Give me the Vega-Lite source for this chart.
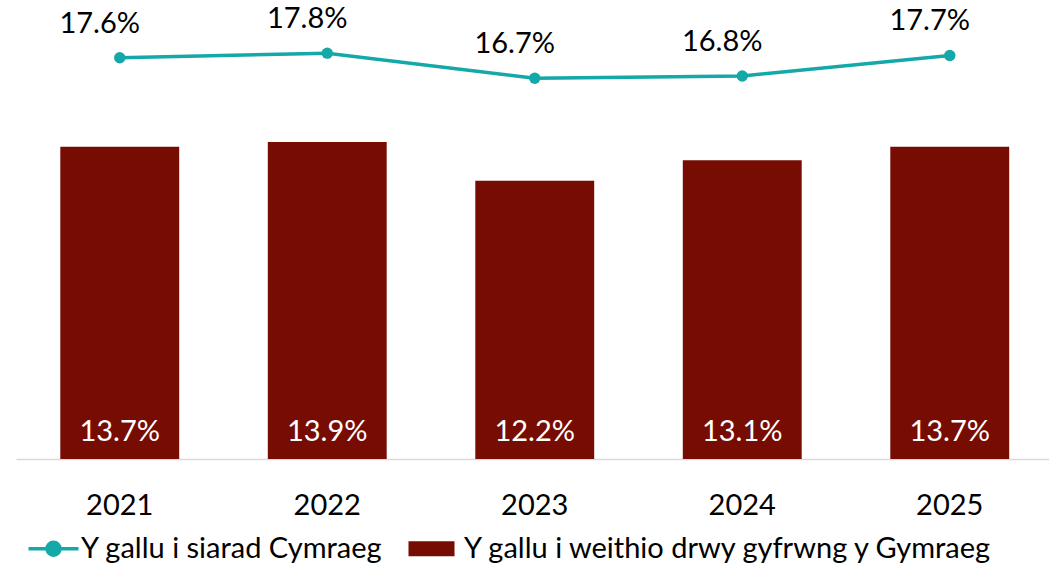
{
  "$schema": "https://vega.github.io/schema/vega-lite/v6.json",
  "width": 1037.5,
  "height": 456,
  "autosize": {"type": "none"},
  "padding": {"left": 16, "top": 3, "right": 0, "bottom": 107},
  "background": "white",
  "config": {
    "view": {"stroke": null},
    "font": "Lato",
    "axis": {"grid": false}
  },
  "data": {
    "values": [
      {"year": "2021", "speak": 0.176, "work": 0.137},
      {"year": "2022", "speak": 0.178, "work": 0.139},
      {"year": "2023", "speak": 0.167, "work": 0.122},
      {"year": "2024", "speak": 0.168, "work": 0.131},
      {"year": "2025", "speak": 0.177, "work": 0.137}
    ]
  },
  "encoding": {
    "x": {
      "field": "year",
      "type": "nominal",
      "scale": {"paddingInner": 0.427, "paddingOuter": 0.2135},
      "axis": {
        "title": null,
        "labelAngle": 0,
        "ticks": false,
        "domain": true,
        "domainColor": "#D9D9D9",
        "domainWidth": 1.5,
        "labelFont": "Lato",
        "labelFontSize": 29,
        "labelColor": "#000000",
        "labelBaseline": "middle",
        "labelPadding": 46
      }
    }
  },
  "layer": [
    {
      "mark": {"type": "bar"},
      "encoding": {
        "y": {"field": "work", "type": "quantitative", "scale": {"domain": [0, 0.2], "nice": false}, "axis": null},
        "color": {
          "datum": "Y gallu i weithio drwy gyfrwng y Gymraeg",
          "type": "nominal",
          "scale": {
            "domain": ["Y gallu i siarad Cymraeg", "Y gallu i weithio drwy gyfrwng y Gymraeg"],
            "range": ["#14A8A8", "#760C02"]
          },
          "legend": {
            "orient": "none",
            "legendX": 23,
            "legendY": 531,
            "direction": "horizontal",
            "title": null,
            "labelFont": "Lato",
            "labelFontSize": 29,
            "labelColor": "#000000",
            "labelLimit": 800,
            "symbolSize": 2500,
            "labelOffset": 13,
            "columnPadding": 25,
            "encode": {
              "symbols": {
                "update": {
                  "shape": {"signal": "datum.value === 'Y gallu i siarad Cymraeg' ? 'M-1,0L1,0M0.26,0A0.26,0.26,0,1,1,-0.26,0A0.26,0.26,0,1,1,0.26,0Z' : 'M-1.12,-0.3L0.72,-0.3L0.72,0.3L-1.12,0.3Z'"},
                  "strokeWidth": {"signal": "datum.value === 'Y gallu i siarad Cymraeg' ? 3.5 : 0"},
                  "fill": {"signal": "datum.value === 'Y gallu i siarad Cymraeg' ? '#14A8A8' : '#760C02'"},
                  "stroke": {"signal": "datum.value === 'Y gallu i siarad Cymraeg' ? '#14A8A8' : '#760C02'"},
                  "opacity": {"value": 1},
                  "fillOpacity": {"value": 1},
                  "strokeOpacity": {"value": 1}
                }
              }
            }
          }
        }
      }
    },
    {
      "mark": {"type": "text", "color": "white", "font": "Lato", "fontSize": 29, "baseline": "middle", "dy": -27},
      "encoding": {
        "y": {"datum": 0, "type": "quantitative"},
        "text": {"field": "work", "type": "quantitative", "format": ".1%"}
      }
    },
    {
      "mark": {"type": "line", "strokeWidth": 3.5, "point": {"filled": true, "size": 130}},
      "encoding": {
        "y": {"field": "speak", "type": "quantitative"},
        "color": {"datum": "Y gallu i siarad Cymraeg", "type": "nominal"}
      }
    },
    {
      "mark": {"type": "text", "color": "#000000", "font": "Lato", "fontSize": 29, "baseline": "middle", "dy": -34, "dx": -20},
      "encoding": {
        "y": {"field": "speak", "type": "quantitative"},
        "text": {"field": "speak", "type": "quantitative", "format": ".1%"}
      }
    }
  ]
}
